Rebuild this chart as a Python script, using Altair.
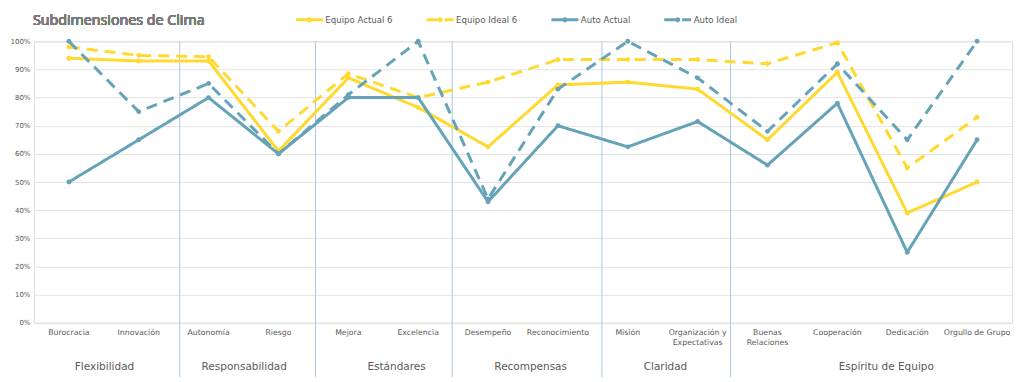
import altair as alt
import pandas as pd

categories = ["Burocracia", "Innovación", "Autonomía", "Riesgo", "Mejora", "Excelencia",
              "Desempeño", "Reconocimiento", "Misión", "Organización y\nExpectativas",
              "Buenas\nRelaciones", "Cooperación", "Dedicación", "Orgullo de Grupo"]
groups = ["Flexibilidad", "Responsabilidad", "Estándares", "Recompensas", "Claridad", "Espíritu de Equipo"]
group_centers = [0.51, 2.51, 4.69, 6.61, 8.54, 11.70]
separators = [1.586, 3.53, 5.486, 7.63, 9.47]

series_names = ["Equipo Actual 6", "Equipo Ideal 6", "Auto Actual", "Auto Ideal"]
equipo_actual = [94, 93, 93, 61, 87, 76.5, 62.5, 84.5, 85.5, 83, 65, 89, 39, 50]
equipo_ideal = [98, 95, 94.5, 68, 88.5, 80, 85.5, 93.5, 93.5, 93.5, 92, 99.5, 55, 73]
auto_actual = [50, 65, 80, 60, 80, 80, 43, 70, 62.5, 71.5, 56, 78, 25, 65]
auto_ideal = [100, 75, 85, 60, 81, 100, 44, 83, 100, 87, 68, 92, 65, 100]
series_values = [equipo_actual, equipo_ideal, auto_actual, auto_ideal]
y_ticks = list(range(0, 101, 10))

YELLOW = "#FFD92F"
BLUE = "#67A3B8"
GRAY = "#595959"
FONT = "DejaVu Sans"
W, H = 980, 282

rows = []
for name, vals in zip(series_names, series_values):
    for i, v in enumerate(vals):
        rows.append({"idx": i, "cat": categories[i], "series": name, "value": v})
df = pd.DataFrame(rows)
df_cats = pd.DataFrame({"idx": list(range(len(categories))), "label": categories})
df_groups = pd.DataFrame({"pos": group_centers, "name": groups})
df_sep = pd.DataFrame({"pos": separators})

xscale = alt.Scale(domain=[-0.5, 13.5], nice=False, zero=False)
x = alt.X("idx:Q", scale=xscale, axis=None)
y = alt.Y("value:Q", scale=alt.Scale(domain=[0, 100], nice=False),
          axis=alt.Axis(values=y_ticks, labelExpr="datum.value + '%'", title=None,
                        domain=False, ticks=False, grid=True, gridColor="#E3E3E3",
                        gridWidth=1, labelFontSize=7, labelColor=GRAY, labelFont=FONT,
                        labelPadding=4))

legend = alt.Legend(title=None, orient="none", direction="horizontal", legendX=261, legendY=-37,
                    columns=4, columnPadding=27, labelFontSize=8.6, labelFont=FONT,
                    labelColor=GRAY, labelOffset=1,
                    symbolType="M-1,0L1,0M-0.08,0A0.08,0.08,0,1,1,0.08,0A0.08,0.08,0,1,1,-0.08,0",
                    symbolSize=729, symbolStrokeWidth=3, symbolFillColor="transparent")
color = alt.Color("series:N", scale=alt.Scale(domain=series_names, range=[YELLOW, YELLOW, BLUE, BLUE]),
                  legend=legend)
dash = alt.StrokeDash("series:N", scale=alt.Scale(domain=series_names,
                                                  range=[[1, 0], [11, 7], [1, 0], [11, 7]]),
                      legend=legend)

seps = alt.Chart(df_sep).mark_rule(color="#A9C8E8", strokeWidth=1).encode(
    x=alt.X("pos:Q", scale=xscale, axis=None),
    y=alt.value(0), y2=alt.value(H + 58))

base = alt.Chart(df)
lines = []
for name in series_names:
    lines.append(base.transform_filter(alt.datum.series == name).mark_line(
        strokeWidth=3, strokeJoin="round",
        point=alt.OverlayMarkDef(filled=True, size=24)).encode(
        x=x, y=y, color=color, strokeDash=dash))

cat_text = alt.Chart(df_cats).mark_text(baseline="top", align="center", lineBreak="\n",
                                        fontSize=7.8, font=FONT, color=GRAY, lineHeight=10).encode(
    x=alt.X("idx:Q", scale=xscale, axis=None), y=alt.value(H + 6), text="label:N")

grp_text = alt.Chart(df_groups).mark_text(baseline="middle", align="center",
                                          fontSize=10.5, font=FONT, color=GRAY).encode(
    x=alt.X("pos:Q", scale=xscale, axis=None), y=alt.value(H + 44), text="name:N")

title = alt.Chart(df_cats).mark_text(align="left", baseline="middle", fontSize=14.3,
                                     font="Open Sans", fontWeight="normal", color="#7A7A7A").encode(
    x=alt.value(-1), y=alt.value(-20), text=alt.value("Subdimensiones de Clima"))

chart = alt.layer(seps, *lines, cat_text, grp_text, title).properties(
    width=W, height=H,
    autosize=alt.AutoSizeParams(type="none"),
    padding={"left": 26, "top": 33, "right": 4, "bottom": 54},
).configure_view(stroke=None).configure(background="white")

chart.save("out.html", embed_options={"renderer": "svg", "actions": False})
